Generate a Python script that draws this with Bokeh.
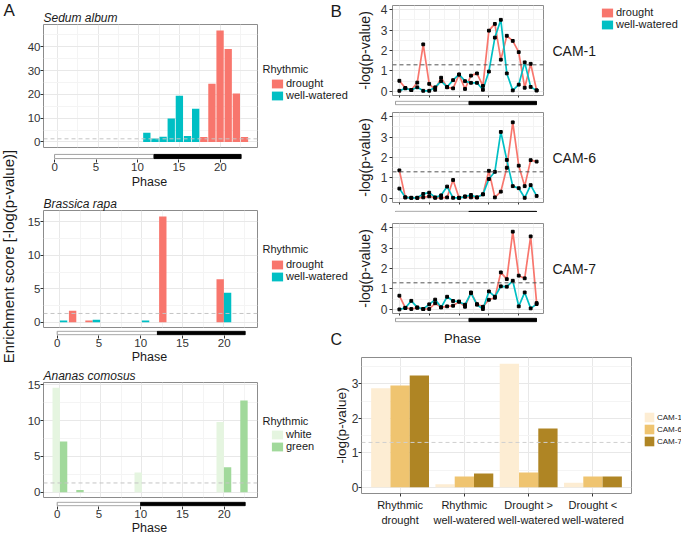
from math import pi
import numpy as np
from bokeh.plotting import figure
from bokeh.layouts import row, column
from bokeh.models import (Range1d, FixedTicker, Span, Label, Legend, LegendItem,
                          ColumnDataSource)
from bokeh.transform import dodge
from bokeh.embed import file_html
from bokeh.resources import INLINE

# ---------------- data ----------------
phase_ticks = [0, 5, 10, 15, 20]
threshold = 1.3

sedum_drought_phase = [18, 19, 20, 21, 22, 23]
sedum_drought_score = [2.1, 24.4, 46.8, 39.0, 20.3, 2.1]
sedum_well_phase = [11, 12, 13, 14, 15, 16, 17]
sedum_well_score = [3.8, 1.4, 2.2, 9.8, 19.4, 2.5, 13.9]

brassica_drought_phase = [2, 4, 13, 20]
brassica_drought_score = [1.7, 0.25, 15.8, 6.4]
brassica_well_phase = [0, 4, 10, 20]
brassica_well_score = [0.25, 0.35, 0.25, 4.4]

ananas_white_phase = [0, 10, 20]
ananas_white_score = [14.6, 2.75, 9.8]
ananas_green_phase = [0, 2, 20, 22]
ananas_green_score = [7.1, 0.3, 3.5, 12.8]

sedum_yticks = [0, 10, 20, 30, 40]
brassica_yticks = [0, 5, 10, 15]
ananas_yticks = [0, 5, 10, 15]

# light period start, dusk, end of the day/night bar
sedum_daynight = [0, 12, 22.5]
brassica_daynight = [0, 12, 22.5]
ananas_daynight = [0, 10, 22.5]
cam_daynight = [0, 12, 23]

cam_phase = list(range(24))
cam1_drought = [0.52, 0.17, 0.07, 0.43, 2.3, 0.37, 0.08, 0.67, 0.2, 0.15, 0.82, 0.12,
                0.77, 0.88, 0.27, 2.97, 3.3, 1.55, 2.72, 2.47, 1.92, 0.18, 1.35, 0.05]
cam1_well = [0.03, 0.15, 0.07, 0.2, 0.03, 0.03, 0.2, 0.5, 0.22, 0.55, 0.83, 0.5,
             0.42, 0.42, 0.08, 0.97, 2.63, 3.5, 0.88, 0.05, 0.33, 1.42, 0.22, 0.05]
cam6_drought = [1.37, 0.05, 0.03, 0.03, 0.05, 0.1, 0.03, 0.03, 0.05, 0.9, 0.03, 0.1,
                0.05, 0.05, 0.2, 1.35, 0.05, 0.33, 1.5, 3.72, 1.6, 0.6, 1.87, 1.8]
cam6_well = [0.48, 0.05, 0.03, 0.03, 0.22, 0.28, 0.05, 0.15, 0.58, 0.03, 0.03, 0.08,
             0.17, 0.05, 0.2, 0.95, 1.3, 3.25, 1.88, 0.6, 0.5, 0.03, 0.65, 0.12]
cam7_drought = [0.67, 0.08, 0.02, 0.08, 0.02, 0.02, 0.3, 0.1, 0.15, 0.18, 0.38, 0.13,
                0.83, 0.26, 0.13, 0.47, 0.57, 1.81, 1.48, 3.8, 1.65, 1.52, 3.57, 0.31]
cam7_well = [0.0, 0.07, 0.42, 0.1, 0.02, 0.25, 0.48, 0.1, 0.62, 0.41, 0.38, 0.23,
             0.8, 0.23, 0.02, 0.88, 0.62, 1.13, 1.11, 1.4, 0.15, 0.83, 0.05, 0.26]
cam_yticks = [0, 1, 2, 3, 4]

c_categories = ["Rhythmic\ndrought", "Rhythmic\nwell-watered",
                "Drought >\nwell-watered", "Drought <\nwell-watered"]
c_series_names = ["CAM-1", "CAM-6", "CAM-7"]
c_cam1 = [2.87, 0.09, 3.58, 0.13]
c_cam6 = [2.95, 0.31, 0.43, 0.31]
c_cam7 = [3.24, 0.40, 1.70, 0.31]
c_yticks = [0, 1, 2, 3]

# ---------------- style ----------------
FONT = "Liberation Sans"
TXT = "#1a1a1a"
TICK_TXT = "#333333"
FRAME = "#8c8c8c"
GRID_MAJ = "#e8e8e8"
GRID_MIN = "#f4f4f4"
DROUGHT = "#F8766D"
WELL = "#00BFC4"
WHITE_C = "#E5F5E0"
GREEN_C = "#A1D99B"
CAM_COLORS = ["#FDEDD3", "#EFC470", "#AF8524"]


def base_fig(w, h, xr, yr, bl, br, bt, bb, xloc="below", yloc="left"):
    p = figure(width=w, height=h, x_range=xr, y_range=yr, output_backend="svg",
               toolbar_location=None, x_axis_location=xloc, y_axis_location=yloc,
               min_border_left=bl, min_border_right=br, min_border_top=bt,
               min_border_bottom=bb)
    if "frame_align" in p.properties():
        p.frame_align = False
    p.outline_line_color = FRAME
    p.border_fill_color = "white"
    p.background_fill_color = "white"
    return p


def blank_fig(w, h):
    p = base_fig(w, h, Range1d(0, 1), Range1d(0, 1), 0, 0, 0, 0, xloc=None, yloc=None)
    p.outline_line_color = None
    p.grid.visible = False
    return p


def minor_of(ticks):
    t = np.asarray(ticks, float)
    step = t[1] - t[0]
    return [float(v) for v in np.arange(t[0] - step / 2, t[-1] + step, step)]


def style_axis(ax, ticker, label_size="12px"):
    ax.ticker = ticker
    ax.axis_line_color = None
    ax.major_tick_in = 0
    ax.major_tick_out = 3
    ax.major_tick_line_color = "#333333"
    ax.minor_tick_in = 0
    ax.minor_tick_out = 0
    ax.minor_tick_line_color = None
    ax.major_label_text_font = FONT
    ax.major_label_text_font_size = label_size
    ax.major_label_text_color = TICK_TXT
    ax.major_label_standoff = 1
    ax.axis_label_text_font = FONT
    ax.axis_label_text_font_style = "normal"
    ax.axis_label_text_color = TXT


def set_grid(p, xt, yt):
    p.xgrid.ticker = xt
    p.ygrid.ticker = yt
    p.grid.grid_line_color = GRID_MAJ
    p.grid.minor_grid_line_color = GRID_MIN


def txt(text, x, y, size="12px", align="left", baseline="middle", angle=0.0):
    return Label(x=x, y=y, x_units="screen", y_units="screen", text=text,
                 text_font=FONT, text_font_size=size, text_align=align,
                 text_baseline=baseline, angle=angle, text_color=TXT)


def legend_fig(w, h, labels, colors, loc, gw, gh, size, title=None, title_pos=None):
    p = blank_fig(w, h)
    items = []
    for lab, col in zip(labels, colors):
        key_src = ColumnDataSource(dict(l=[np.nan], r=[np.nan], t=[np.nan], b=[np.nan]))
        r = p.quad(left="l", right="r", top="t", bottom="b", source=key_src,
                   fill_color=col, line_color=None)
        items.append(LegendItem(label=lab, renderers=[r]))
    p.add_layout(Legend(items=items, location=loc, orientation="vertical",
                        glyph_width=gw, glyph_height=gh, label_height=gh,
                        label_standoff=2, spacing=0, padding=0, margin=0,
                        border_line_color=None, background_fill_alpha=0,
                        label_text_font=FONT, label_text_font_size=size,
                        label_text_color=TXT))
    if title:
        p.add_layout(txt(title, title_pos[0], title_pos[1], size="11px"))
    return p


# ---------------- panel A ----------------
A_BL, A_MW = 16, 234


def a_main(h, bt, bb, xr, yr, yticks, series, offsets, colors, title):
    p = base_fig(A_MW, h, xr, yr, A_BL, 1, bt, bb)
    xt = FixedTicker(ticks=phase_ticks, minor_ticks=minor_of(phase_ticks))
    yt = FixedTicker(ticks=yticks, minor_ticks=minor_of(yticks))
    style_axis(p.yaxis[0], yt, label_size="11.5px")
    p.yaxis[0].major_label_standoff = 0
    p.below = []
    set_grid(p, xt, yt)
    for (ph, sc), off, col in zip(series, offsets, colors):
        src = ColumnDataSource(dict(phase=ph, score=sc))
        p.vbar(x=dodge("phase", off), top="score", bottom=0, width=0.9,
               source=src, fill_color=col, line_color=None)
    p.add_layout(Span(location=threshold, dimension="width", line_color="#c4c4c4",
                      line_dash="4 3", line_width=1))
    p.title.text = title
    p.title.text_font = FONT
    p.title.text_font_size = "12px"
    p.title.text_font_style = "italic"
    p.title.text_color = TXT
    p.title.align = "left"
    p.title.standoff = 0
    p.title.offset = 0
    return p


def phase_fig(w, h, xr, bl, br, bt, bb, daynight, xloc):
    p = base_fig(w, h, xr, Range1d(-0.2, 1.2), bl, br, bt, bb, xloc=xloc, yloc=None)
    p.outline_line_color = None
    p.grid.visible = False
    start, dusk, end = daynight
    p.quad(left=[start], right=[dusk], bottom=[0], top=[1], fill_color="white",
           line_color="#9a9a9a", line_width=1)
    p.quad(left=[dusk], right=[end], bottom=[0], top=[1], fill_color="black",
           line_color="black", line_width=1)
    return p


def a_phase(w, h, bt, bb, xr, daynight, label_standoff):
    p = phase_fig(w, h, xr, A_BL, w - A_BL - 218, bt, bb, daynight, "below")
    ax = p.xaxis[0]
    style_axis(ax, FixedTicker(ticks=phase_ticks), label_size="11.5px")
    ax.major_label_standoff = 0
    ax.axis_label = "Phase"
    ax.axis_label_text_font_size = "12.5px"
    ax.axis_label_standoff = label_standoff
    return p


def a_legend(w, h, labels, colors, title_y, legend_y):
    return legend_fig(w, h, labels, colors, (12, legend_y), 14, 11, "11px",
                      title="Rhythmic", title_pos=(4, title_y))


sedum_xr = Range1d(-1.7, 24.6)
brassica_xr = Range1d(-2.0, 24.1)
ananas_xr = Range1d(-2.0, 24.1)

# top-left block (x 24..353, y 0..329)
a1 = a_main(148, 24, 1, sedum_xr, Range1d(-2.35, 49.35), sedum_yticks,
            [(sedum_drought_phase, sedum_drought_score), (sedum_well_phase, sedum_well_score)],
            [0, 0], [DROUGHT, WELL], "Sedum album")
a1l = a_legend(95, 148, ["drought", "well-watered"], [DROUGHT, WELL], 80, 47)
a1l.add_layout(txt("B", 72, 147, size="17px", baseline="top"))
a1p = a_phase(329, 46, 5, 35, sedum_xr, sedum_daynight, 1)
a2 = a_main(135, 13, 2, brassica_xr, Range1d(-0.8, 16.7), brassica_yticks,
            [(brassica_drought_phase, brassica_drought_score),
             (brassica_well_phase, brassica_well_score)],
            [-0.45, 0.45], [DROUGHT, WELL], "Brassica rapa")
a2l = a_legend(95, 135, ["drought", "well-watered"], [DROUGHT, WELL], 81, 47)
a_top = column(row(a1, a1l), a1p, row(a2, a2l))

# bottom-left block (x 24..330, y 329..537)
a2p = a_phase(306, 37, 1, 31, brassica_xr, brassica_daynight, 0)
a3 = a_main(132, 12, 1, ananas_xr, Range1d(-0.73, 15.33), ananas_yticks,
            [(ananas_white_phase, ananas_white_score), (ananas_green_phase, ananas_green_score)],
            [-0.45, 0.45], [WHITE_C, GREEN_C], "Ananas comosus")
a3l = a_legend(72, 132, ["white", "green"], [WHITE_C, GREEN_C], 78, 46)
a3p = a_phase(306, 39, 3, 31, ananas_xr, ananas_daynight, 0)
a_bottom = column(a2p, row(a3, a3l), a3p)

# shared y label + panel letter A
pl = blank_fig(24, 537)
pl.add_layout(txt("Enrichment score [-log(p-value)]", 8, 281, size="15px",
                  align="center", angle=pi / 2))
pl.add_layout(txt("A", 3, 537, size="17px", baseline="top"))

# ---------------- panel B (x 353..681, y 0..329) ----------------
B_W, B_BL, B_MW = 328, 35, 191
B_SIDE = B_W - B_MW
b_xr = Range1d(-1.15, 24.15)


def b_main(h, bt, bb, drought, well):
    p = base_fig(B_MW, h, b_xr, Range1d(-0.2, 4.2), B_BL, 1, bt, bb)
    xt = FixedTicker(ticks=phase_ticks, minor_ticks=minor_of(phase_ticks))
    yt = FixedTicker(ticks=cam_yticks, minor_ticks=minor_of(cam_yticks))
    style_axis(p.yaxis[0], yt)
    p.yaxis[0].major_label_standoff = 2
    p.yaxis[0].axis_label = "-log(p-value)"
    p.yaxis[0].axis_label_text_font_size = "14px"
    p.yaxis[0].axis_label_standoff = 5
    xa = p.xaxis[0]
    style_axis(xa, xt, label_size="0px")
    xa.major_label_overrides = {t: "" for t in phase_ticks}
    xa.major_label_standoff = 0
    xa.major_tick_out = 2
    set_grid(p, xt, yt)
    p.add_layout(Span(location=threshold, dimension="width", line_color="#555555",
                      line_dash="4 3", line_width=1))
    p.line(cam_phase, drought, line_color=DROUGHT, line_width=1.7)
    p.line(cam_phase, well, line_color=WELL, line_width=1.7)
    p.scatter(cam_phase, drought, marker="square", size=2.8, color="black")
    p.scatter(cam_phase, well, marker="square", size=2.8, color="black")
    return p


def b_side(h, name, legend=False):
    if legend:
        p = legend_fig(B_SIDE, h, ["drought", "well-watered"], [DROUGHT, WELL],
                       (56, 68), 14, 11, "11px")
    else:
        p = blank_fig(B_SIDE, h)
    p.add_layout(txt(name, 8, 48, size="14px"))
    return p


def b_phase(h, bt, bb):
    return phase_fig(B_W, h, b_xr, B_BL, B_SIDE + 1, bt, bb, cam_daynight, None)


b1 = b_main(98, 5, 3, cam1_drought, cam1_well)
b1s = b_side(98, "CAM-1", legend=True)
b1p = b_phase(10, 0, 5)
b2 = b_main(97, 4, 3, cam6_drought, cam6_well)
b2s = b_side(97, "CAM-6")
b2p = b_phase(7, 0, 2)
b3 = b_main(104, 11, 3, cam7_drought, cam7_well)
b3s = b_side(104, "CAM-7")
b3p = b_phase(13, 1, 7)
b_col = column(row(b1, b1s), b1p, row(b2, b2s), b2p, row(b3, b3s), b3p)

# ---------------- panel C (x 330..681, y 329..537) ----------------
STRIP_H = 19
strip = blank_fig(351, STRIP_H)
strip.add_layout(txt("C", 0, 9.5, size="16px"))
strip.add_layout(txt("Phase", 132, 10.5, size="13px", align="center"))

C_LEG, C_H = 49, 208 - STRIP_H
pc = base_fig(351 - C_LEG, C_H, Range1d(0.4, 4.6), Range1d(-0.179, 3.76), 26, 1,
              C_H - 44 - 136, 44)
c_idx = list(range(1, len(c_categories) + 1))
c_xt = FixedTicker(ticks=c_idx)
c_yt = FixedTicker(ticks=c_yticks, minor_ticks=minor_of(c_yticks))
style_axis(pc.yaxis[0], c_yt)
pc.yaxis[0].major_label_standoff = 0
pc.yaxis[0].axis_label = "-log(p-value)"
pc.yaxis[0].axis_label_text_font_size = "13.5px"
pc.yaxis[0].axis_label_standoff = 0
style_axis(pc.xaxis[0], c_xt, label_size="11px")
pc.xaxis[0].major_label_overrides = {i: c for i, c in zip(c_idx, c_categories)}
pc.xaxis[0].major_label_standoff = 2
pc.xaxis[0].major_label_text_line_height = 1.3
pc.xaxis[0].major_label_text_color = TXT
set_grid(pc, c_xt, c_yt)
pc.xgrid.minor_grid_line_color = None
pc.add_layout(Span(location=threshold, dimension="width", line_color="#cfcfcf",
                   line_dash="4 3", line_width=1))
for vals, col, off in zip([c_cam1, c_cam6, c_cam7], CAM_COLORS, [-0.3, 0.0, 0.3]):
    src = ColumnDataSource(dict(idx=c_idx, val=vals))
    pc.vbar(x=dodge("idx", off), top="val", bottom=0, width=0.3, source=src,
            fill_color=col, line_color=None)
pcl = legend_fig(C_LEG, C_H, c_series_names, CAM_COLORS, (11, 90), 12, 12, "8px")
c_col = column(strip, row(pc, pcl))

rest = column(row(a_top, b_col), row(a_bottom, c_col))
layout = row(pl, rest)

open("out.html", "w").write(file_html(layout, INLINE))
